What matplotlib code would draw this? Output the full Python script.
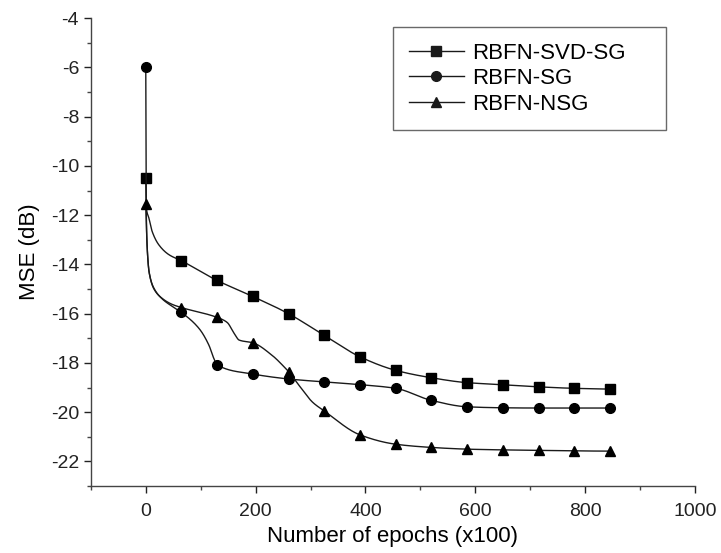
import numpy as np
import matplotlib
matplotlib.use("Agg")
import matplotlib.pyplot as plt
from matplotlib.ticker import MultipleLocator

plt.rcParams['font.family'] = ['Liberation Sans', 'DejaVu Sans']
plt.rcParams['axes.unicode_minus'] = False

# Sampled epochs (markers) and MSE values
epochs = [0, 65, 130, 195, 260, 325, 390, 455, 520, 585, 650, 715, 780, 845]
mse_svd_sg = [-10.5, -13.85, -14.65, -15.3, -16.0, -16.88, -17.75, -18.3, -18.6,
              -18.8, -18.88, -18.97, -19.03, -19.06]
mse_sg = [-6.0, -15.95, -18.08, -18.45, -18.65, -18.77, -18.88, -19.03, -19.52,
          -19.78, -19.82, -19.83, -19.83, -19.83]
mse_nsg = [-11.55, -15.75, -16.15, -17.18, -18.35, -19.95, -20.92, -21.3, -21.43,
           -21.5, -21.53, -21.55, -21.57, -21.58]

# Additional unmarked points of the training curves between markers
trace_svd_sg_x = [0.5, 2, 5.5, 11.5, 23.7, 42]
trace_svd_sg_y = [-11.5, -11.85, -12.1, -12.65, -13.2, -13.6]
trace_sg_x = [1, 3, 6, 15, 30, 48, 97, 115, 124]
trace_sg_y = [-12.0, -13.5, -14.3, -14.97, -15.4, -15.7, -16.6, -17.28, -17.82]
trace_nsg_x = [3, 6, 15, 30, 48, 148, 161, 170, 230, 252, 279, 304]
trace_nsg_y = [-13.5, -14.3, -15.0, -15.38, -15.62, -16.35, -16.8, -17.07,
               -17.69, -18.16, -18.91, -19.6]

series = [
    ("RBFN-SVD-SG", mse_svd_sg, trace_svd_sg_x, trace_svd_sg_y, "s"),
    ("RBFN-SG", mse_sg, trace_sg_x, trace_sg_y, "o"),
    ("RBFN-NSG", mse_nsg, trace_nsg_x, trace_nsg_y, "^"),
]


def pchip(x, y, xs):
    """Shape-preserving cubic Hermite curve through (x, y)."""
    x = np.asarray(x, float)
    y = np.asarray(y, float)
    h = np.diff(x)
    d = np.diff(y) / h
    n = len(x)
    m = np.zeros(n)
    for k in range(1, n - 1):
        if d[k - 1] * d[k] > 0:
            w1 = 2 * h[k] + h[k - 1]
            w2 = h[k] + 2 * h[k - 1]
            m[k] = (w1 + w2) / (w1 / d[k - 1] + w2 / d[k])
    for k, (hh0, hh1, d0, d1) in ((0, (h[0], h[1], d[0], d[1])),
                                   (n - 1, (h[-1], h[-2], d[-1], d[-2]))):
        e = ((2 * hh0 + hh1) * d0 - hh0 * d1) / (hh0 + hh1)
        if np.sign(e) != np.sign(d0):
            e = 0.0
        elif np.sign(d0) != np.sign(d1) and abs(e) > abs(3 * d0):
            e = 3 * d0
        m[k] = e
    idx = np.clip(np.searchsorted(x, xs) - 1, 0, n - 2)
    t = (xs - x[idx]) / h[idx]
    h00 = 2 * t**3 - 3 * t**2 + 1
    h10 = t**3 - 2 * t**2 + t
    h01 = -2 * t**3 + 3 * t**2
    h11 = t**3 - t**2
    return (h00 * y[idx] + h10 * h[idx] * m[idx]
            + h01 * y[idx + 1] + h11 * h[idx] * m[idx + 1])


fig = plt.figure(figsize=(7.21, 5.53), dpi=100)
ax = fig.add_axes([0.126, 0.121, 0.838, 0.846])

line_color = "#1a1a1a"
xs = np.concatenate([np.linspace(0, 20, 800), np.linspace(20, epochs[-1], 1600)])
for label, vals, tx, ty, mk in series:
    kx = np.concatenate([epochs, tx])
    ky = np.concatenate([vals, ty])
    order = np.argsort(kx)
    ax.plot(xs, pchip(kx[order], ky[order], xs), color=line_color, lw=1.0)
    ax.plot(epochs, vals, linestyle="none", marker=mk, color="black",
            markersize=7)
    ax.plot([], [], color=line_color, lw=1.0, marker=mk, markersize=7,
            label=label)

ax.set_xlim(-100, 1000)
ax.set_ylim(-23, -4)
ax.xaxis.set_major_locator(MultipleLocator(200))
ax.xaxis.set_minor_locator(MultipleLocator(100))
ax.yaxis.set_major_locator(MultipleLocator(2))
ax.yaxis.set_minor_locator(MultipleLocator(1))

for s in ("top", "right"):
    ax.spines[s].set_visible(False)
for s in ("left", "bottom"):
    ax.spines[s].set_linewidth(1.0)
    ax.spines[s].set_color("#444444")

ax.tick_params(which="major", direction="out", length=5, width=1.0,
               labelsize=14, colors="#222222")
ax.tick_params(which="minor", direction="out", length=3, width=1.0,
               colors="#444444")
ax.tick_params(axis="x", which="major", pad=7.5)

ax.set_xlabel("Number of epochs (x100)", fontsize=16, labelpad=4)
ax.set_ylabel("MSE (dB)", fontsize=16, labelpad=8)

leg = ax.legend(loc="upper left", bbox_to_anchor=(0.5, 0.5, 0.452, 0.481),
                mode="expand", fontsize=16, frameon=True, fancybox=False,
                edgecolor="#444444", handlelength=2.5, handletextpad=0.35,
                borderpad=0.7, labelspacing=0.2, borderaxespad=0)
leg.get_frame().set_linewidth(1.0)

fig.savefig("out.png", dpi=100)
